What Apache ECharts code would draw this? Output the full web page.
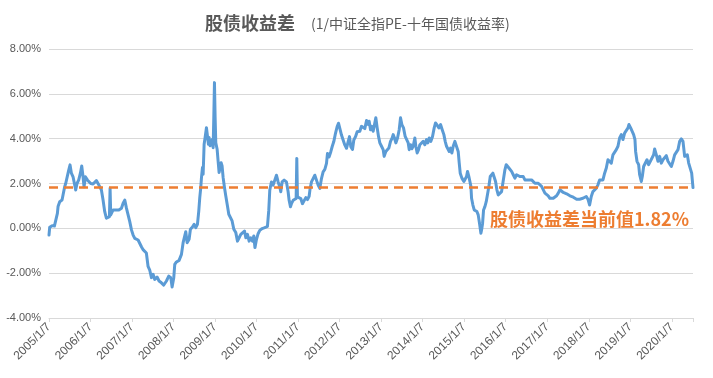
<!DOCTYPE html>
<html>
<head>
<meta charset="utf-8">
<script src="https://cdn.jsdelivr.net/npm/echarts@6/dist/echarts.min.js"></script>
<style>
  html, body { margin: 0; padding: 0; background: #fff; }
  #chart { width: 713px; height: 378px; }
</style>
</head>
<body>
<div id="chart"></div>
<script>
// time in years, 2005/1/7 = 2005.0 (weekly data)
const t = [
  2005.000, 2005.017, 2005.040, 2005.075, 2005.130, 2005.178, 2005.202, 2005.218, 2005.258, 2005.314,
  2005.338, 2005.378, 2005.402, 2005.443, 2005.475, 2005.507, 2005.539, 2005.579, 2005.619, 2005.643,
  2005.675, 2005.716, 2005.756, 2005.788, 2005.820, 2005.844, 2005.876, 2005.924, 2005.957, 2006.005,
  2006.061, 2006.101, 2006.141, 2006.181, 2006.222, 2006.262, 2006.302, 2006.342, 2006.382, 2006.422,
  2006.455, 2006.471, 2006.487, 2006.544, 2006.584, 2006.625, 2006.681, 2006.745, 2006.785, 2006.825,
  2006.865, 2006.905, 2006.945, 2006.986, 2007.026, 2007.066, 2007.146, 2007.226, 2007.265, 2007.305,
  2007.345, 2007.386, 2007.426, 2007.467, 2007.507, 2007.547, 2007.603, 2007.651, 2007.708, 2007.764,
  2007.828, 2007.884, 2007.933, 2007.965, 2008.005, 2008.029, 2008.069, 2008.133, 2008.190, 2008.230,
  2008.270, 2008.294, 2008.326, 2008.374, 2008.406, 2008.455, 2008.495, 2008.535, 2008.575, 2008.607,
  2008.631, 2008.655, 2008.672, 2008.696, 2008.712, 2008.736, 2008.760, 2008.792, 2008.816, 2008.840,
  2008.856, 2008.880, 2008.913, 2008.937, 2008.953, 2008.969, 2008.985, 2009.001, 2009.017, 2009.049,
  2009.073, 2009.097, 2009.121, 2009.145, 2009.169, 2009.194, 2009.226, 2009.258, 2009.298, 2009.330,
  2009.370, 2009.410, 2009.451, 2009.499, 2009.539, 2009.579, 2009.619, 2009.659, 2009.708, 2009.740,
  2009.780, 2009.820, 2009.860, 2009.900, 2009.933, 2009.960, 2009.996, 2010.036, 2010.076, 2010.133,
  2010.197, 2010.261, 2010.293, 2010.317, 2010.357, 2010.398, 2010.438, 2010.478, 2010.518, 2010.558,
  2010.582, 2010.614, 2010.663, 2010.719, 2010.759, 2010.783, 2010.815, 2010.839, 2010.880, 2010.920,
  2010.952, 2010.968, 2010.984, 2011.016, 2011.064, 2011.104, 2011.145, 2011.185, 2011.225, 2011.265,
  2011.289, 2011.321, 2011.361, 2011.402, 2011.442, 2011.482, 2011.522, 2011.562, 2011.602, 2011.643,
  2011.683, 2011.707, 2011.747, 2011.787, 2011.819, 2011.859, 2011.900, 2011.940, 2011.972, 2012.004,
  2012.044, 2012.084, 2012.124, 2012.165, 2012.205, 2012.237, 2012.269, 2012.309, 2012.341, 2012.382,
  2012.422, 2012.462, 2012.486, 2012.526, 2012.566, 2012.606, 2012.647, 2012.687, 2012.711, 2012.743,
  2012.775, 2012.807, 2012.839, 2012.871, 2012.904, 2012.936, 2012.968, 2013.008, 2013.048, 2013.072,
  2013.112, 2013.145, 2013.185, 2013.225, 2013.265, 2013.289, 2013.321, 2013.353, 2013.394, 2013.434,
  2013.466, 2013.498, 2013.538, 2013.578, 2013.610, 2013.651, 2013.675, 2013.707, 2013.739, 2013.771,
  2013.811, 2013.835, 2013.867, 2013.900, 2013.932, 2013.972, 2014.012, 2014.052, 2014.092, 2014.124,
  2014.157, 2014.197, 2014.237, 2014.277, 2014.309, 2014.349, 2014.390, 2014.430, 2014.470, 2014.510,
  2014.542, 2014.574, 2014.606, 2014.639, 2014.671, 2014.703, 2014.735, 2014.775, 2014.815, 2014.855,
  2014.880, 2014.904, 2014.944, 2014.992, 2015.056, 2015.080, 2015.112, 2015.137, 2015.161, 2015.177,
  2015.209, 2015.241, 2015.273, 2015.305, 2015.337, 2015.369, 2015.402, 2015.418, 2015.442, 2015.466,
  2015.498, 2015.530, 2015.562, 2015.594, 2015.627, 2015.659, 2015.691, 2015.723, 2015.755, 2015.787,
  2015.819, 2015.859, 2015.900, 2015.940, 2015.980, 2016.012, 2016.044, 2016.076, 2016.108, 2016.141,
  2016.181, 2016.221, 2016.261, 2016.301, 2016.341, 2016.382, 2016.422, 2016.462, 2016.502, 2016.542,
  2016.582, 2016.622, 2016.663, 2016.703, 2016.743, 2016.783, 2016.823, 2016.863, 2016.904, 2016.944,
  2016.984, 2017.024, 2017.064, 2017.104, 2017.145, 2017.185, 2017.225, 2017.265, 2017.305, 2017.345,
  2017.386, 2017.426, 2017.466, 2017.506, 2017.546, 2017.586, 2017.627, 2017.667, 2017.707, 2017.747,
  2017.779, 2017.859, 2017.940, 2017.980, 2018.020, 2018.060, 2018.100, 2018.141, 2018.181, 2018.221,
  2018.261, 2018.301, 2018.341, 2018.382, 2018.422, 2018.462, 2018.502, 2018.542, 2018.582, 2018.622,
  2018.663, 2018.703, 2018.743, 2018.783, 2018.823, 2018.863, 2018.904, 2018.944, 2018.968, 2019.008,
  2019.048, 2019.080, 2019.112, 2019.128, 2019.161, 2019.201, 2019.225, 2019.265, 2019.289, 2019.321,
  2019.361, 2019.402, 2019.442, 2019.482, 2019.522, 2019.562, 2019.586, 2019.627, 2019.667, 2019.707,
  2019.747, 2019.787, 2019.827, 2019.867, 2019.908, 2019.948, 2019.988, 2020.028, 2020.068, 2020.108,
  2020.149, 2020.189, 2020.229, 2020.269, 2020.309, 2020.349, 2020.373, 2020.406, 2020.446, 2020.478,
  2020.510
];
// 股债收益差, %
const spread = [
  -0.30, 0.05, 0.00, 0.12, 0.10, 0.15, 0.67, 0.97, 1.19, 1.26,
  1.49, 1.86, 2.00, 1.93, 2.60, 2.83, 2.46, 2.30, 1.93, 1.71,
  2.00, 2.16, 2.46, 2.78, 2.30, 1.85, 2.30, 2.16, 2.13, 2.00,
  1.98, 1.93, 2.13, 2.00, 1.86, 1.71, 1.26, 0.74, 0.45, 0.37,
  0.52, 1.79, 0.60, 0.82, 0.90, 0.82, 0.82, 0.90, 1.12, 1.26,
  0.90, 0.60, 0.30, -0.07, -0.30, -0.45, -0.52, -0.82, -0.95, -1.00,
  -1.10, -1.70, -1.86, -2.20, -2.05, -2.28, -2.17, -2.35, -2.43, -2.53,
  -2.35, -2.13, -2.20, -2.62, -2.20, -1.61, -1.50, -1.43, -1.16, -0.64,
  -0.57, -0.15, -0.64, -0.49, -0.04, 0.06, 0.18, 0.03, 0.18, 0.77,
  1.37, 1.82, 2.26, 2.71, 2.41, 3.75, 4.05, 4.49, 4.57, 3.75,
  4.05, 3.68, 3.75, 3.97, 3.60, 4.94, 6.50, 4.94, 3.82, 3.53,
  3.00, 2.49, 2.41, 2.93, 2.78, 2.26, 1.82, 1.44, 1.00, 0.63,
  0.55, 0.33, -0.04, -0.19, -0.57, -0.42, -0.27, -0.24, -0.12, -0.42,
  -0.27, -0.57, -0.42, -0.57, -0.34, -0.86, -0.50, -0.24, -0.09, -0.01,
  0.03, 0.09, 0.81, 1.70, 2.07, 1.93, 2.15, 2.37, 2.07, 1.85,
  1.63, 2.07, 2.15, 2.07, 1.63, 1.25, 0.96, 1.10, 1.25, 1.22,
  1.33, 3.12, 1.40, 1.37, 1.33, 1.10, 1.18, 1.37, 1.28, 1.43,
  1.78, 2.07, 2.22, 2.37, 2.15, 1.93, 1.78, 2.22, 2.52, 2.63,
  2.90, 3.34, 3.19, 3.42, 3.64, 3.87, 4.24, 4.54, 4.69, 4.46,
  4.16, 3.94, 3.72, 3.57, 3.87, 4.09, 3.64, 3.52, 3.94, 4.09,
  4.31, 4.24, 4.33, 4.55, 4.63, 4.45, 4.81, 4.63, 4.78, 4.40,
  4.55, 4.33, 4.63, 4.93, 4.48, 4.10, 3.81, 3.66, 3.51, 3.21,
  3.43, 3.36, 3.58, 3.88, 4.03, 4.18, 4.03, 3.81, 4.03, 4.40,
  4.93, 4.63, 4.48, 4.10, 4.03, 3.81, 3.51, 3.73, 3.55, 3.66,
  4.03, 3.66, 3.36, 3.51, 3.73, 3.66, 3.88, 3.73, 3.96, 3.81,
  4.03, 3.88, 4.10, 4.48, 4.70, 4.60, 4.48, 4.63, 4.40, 4.18,
  3.88, 3.66, 3.58, 3.43, 3.58, 3.36, 3.66, 3.88, 3.81, 3.43,
  2.91, 2.46, 2.24, 2.09, 2.31, 2.54, 2.31, 2.09, 1.87, 1.34,
  1.04, 0.82, 0.90, 0.75, 0.60, 0.22, -0.22, -0.07, 0.22, 0.82,
  0.97, 1.19, 1.12, 1.87, 2.31, 2.39, 2.46, 2.49, 2.09, 1.72,
  1.49, 1.57, 1.64, 1.72, 2.61, 2.84, 2.91, 2.69, 2.76, 2.54,
  2.39, 2.24, 2.39, 2.31, 2.31, 2.24, 2.31, 2.16, 2.24, 2.16,
  2.09, 2.16, 2.09, 2.01, 2.06, 2.01, 1.94, 1.87, 1.79, 1.57,
  1.64, 1.45, 1.34, 1.27, 1.34, 1.39, 1.45, 1.57, 1.72, 1.69,
  1.60, 1.57, 1.54, 1.49, 1.45, 1.42, 1.39, 1.34, 1.30, 1.27,
  1.30, 1.34, 1.42, 1.30, 1.04, 1.42, 1.64, 1.57, 1.79, 1.94,
  2.16, 2.09, 2.16, 2.46, 2.69, 3.06, 3.13, 2.91, 3.28, 3.28,
  3.51, 3.66, 4.03, 4.18, 3.96, 4.25, 4.33, 4.48, 4.63, 4.48,
  4.40, 4.18, 3.96, 3.43, 2.99, 2.84, 2.39, 2.09, 2.31, 2.76,
  2.84, 3.06, 2.84, 2.99, 3.06, 3.28, 3.54, 3.28, 2.99, 3.21,
  2.91, 3.06, 3.13, 3.24, 2.99, 2.91, 2.76, 2.99, 3.28, 3.21,
  3.51, 3.88, 3.99, 3.88, 3.21, 3.13, 3.28, 2.91, 2.84, 2.46,
  1.82
];
const current = 1.82;
const yTicks = [-4, -2, 0, 2, 4, 6, 8];

const chart = echarts.init(document.getElementById('chart'));
const FONT = '"Liberation Sans", "Noto Sans CJK SC", sans-serif';
const grey = '#d9d9d9';

chart.setOption({
  animation: false,
  textStyle: { fontFamily: FONT },
  title: {
    left: 200,
    top: 9,
    text: '{a|股债收益差}{b|(1/中证全指PE-十年国债收益率)}',
    textStyle: {
      rich: {
        a: { fontSize: 18, fontWeight: 'bold', color: '#595959', fontFamily: '"Noto Sans CJK SC", sans-serif' },
        b: { fontSize: 14, fontWeight: 'normal', color: '#595959', padding: [2, 0, 0, 16], fontFamily: '"Noto Sans CJK SC", sans-serif' }
      }
    }
  },
  grid: { left: 49, right: 20, top: 49, bottom: 60, outerBoundsMode: 'none' },
  xAxis: [
    {
      type: 'value',
      min: t[0],
      max: t[t.length - 1],
      interval: 1,
      axisLine: { show: false },
      axisTick: { show: false },
      splitLine: { show: false },
      axisLabel: {
        rotate: 45,
        margin: 7,
        fontSize: 12,
        color: '#595959',
        formatter: v => Math.abs(v - Math.round(v)) < 1e-6 ? Math.round(v) + '/1/7' : ''
      }
    },
    {
      type: 'value',
      position: 'bottom',
      min: t[0],
      max: t[t.length - 1],
      interval: 1,
      axisLine: { show: true, onZero: true, lineStyle: { color: grey, width: 1 } },
      axisTick: { show: true, length: 4, lineStyle: { color: grey } },
      axisLabel: { show: false },
      splitLine: { show: false }
    }
  ],
  yAxis: {
    type: 'value',
    min: yTicks[0],
    max: yTicks[yTicks.length - 1],
    interval: 2,
    axisLine: { show: false },
    axisTick: { show: false },
    splitLine: { lineStyle: { color: grey, width: 1 } },
    axisLabel: {
      fontSize: 11,
      color: '#595959',
      margin: 8,
      formatter: v => v.toFixed(2) + '%'
    }
  },
  series: [
    {
      name: '股债收益差',
      type: 'line',
      data: t.map((x, i) => [x, spread[i]]),
      showSymbol: false,
      symbol: 'none',
      lineStyle: { color: '#5b9bd5', width: 3, join: 'round', cap: 'round' },
      z: 3,
      markLine: {
        silent: true,
        symbol: 'none',
        label: { show: false },
        lineStyle: { color: '#ed7d31', width: 2.5, type: [9, 6] },
        data: [{ yAxis: current }]
      }
    }
  ],
  graphic: [
    {
      type: 'text',
      left: 490,
      top: 210,
      style: {
        text: '股债收益差当前值' + current.toFixed(2) + '%',
        fill: '#ed7d31',
        font: 'bold 18px "Noto Sans CJK SC", sans-serif'
      },
      z: 10
    }
  ]
});
</script>
</body>
</html>
